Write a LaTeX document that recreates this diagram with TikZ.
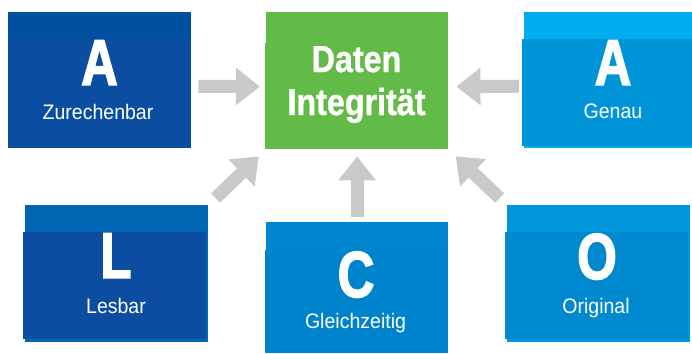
\documentclass[tikz,border=0pt]{standalone}
\usepackage{fontspec}
\setmainfont{Liberation Sans}
\newfontfamily\letterfont[FakeStretch=0.78, FakeBold=2.2]{Liberation Sans Bold}
\newfontfamily\titlefont[FakeStretch=0.86, FakeBold=1.0]{Liberation Sans Bold}
\newfontfamily\subfont[FakeStretch=0.93]{Liberation Sans}
\usetikzlibrary{arrows.meta}
\definecolor{zuTop}{HTML}{0050A0}
\definecolor{zuIn}{HTML}{0B4EA1}
\definecolor{datGreen}{HTML}{62BB46}
\definecolor{geTop}{HTML}{00ADEF}
\definecolor{geIn}{HTML}{0095D9}
\definecolor{lesTop}{HTML}{0066B3}
\definecolor{lesIn}{HTML}{0C4DA2}
\definecolor{glTop}{HTML}{0085CF}
\definecolor{glIn}{HTML}{0083CD}
\definecolor{oriTop}{HTML}{0096DB}
\definecolor{oriIn}{HTML}{0089CF}
\definecolor{arrowGray}{HTML}{C9C9C9}
\tikzset{
  box/.style={draw=none, inner sep=0pt, anchor=north west},
  letter/.style={text=white, inner sep=0pt, anchor=base, font=\letterfont\fontsize{65}{65}\selectfont},
  subtitle/.style={text=white, inner sep=0pt, anchor=base, font=\subfont\fontsize{21}{21}\selectfont},
  title/.style={text=white, inner sep=0pt, anchor=base, font=\titlefont\fontsize{37.5}{37.5}\selectfont},
  conn/.style={draw=arrowGray, line width=13pt, -{Triangle[length=24pt, width=36pt]}}
}
\begin{document}
\begin{tikzpicture}[x=1pt, y=-1pt]
\useasboundingbox (0,0) rectangle (692,353);
% boxes
\node[box, fill=zuTop, minimum width=183pt, minimum height=136pt] (zu) at (8,12) {};
\fill[zuIn] (8,39) rectangle (191,148);
\node[box, fill=datGreen, minimum width=182pt, minimum height=137pt] (dat) at (266,12) {};
\fill[datGreen] (265,43) rectangle (448,149);
\node[box, fill=geTop, minimum width=168pt, minimum height=136pt] (ge) at (524,12) {};
\fill[geIn] (522,39) rectangle (692,146);
\node[box, fill=lesTop, minimum width=183pt, minimum height=137pt] (les) at (25,205) {};
\fill[lesIn] (23,232) rectangle (206,339);
\node[box, fill=glTop, minimum width=182pt, minimum height=131pt] (gl) at (266,222) {};
\fill[glIn] (265,250) rectangle (448,353);
\node[box, fill=oriTop, minimum width=183pt, minimum height=137pt] (ori) at (507,205) {};
\fill[oriIn] (505,232) rectangle (688,339);
% texts
\node[letter] (zuL) at (99.5,85) {A};
\node[subtitle] (zuS) at (98,119) {Zurechenbar};
\node[title] (dat1) at (356.5,72) {Daten};
\node[title] (dat2) at (356.5,115) {Integrität};
\node[letter] (geL) at (613,85) {A};
\node[subtitle] (geS) at (613,118) {Genau};
\node[letter] (lesL) at (116,278) {L};
\node[subtitle] (lesS) at (116,313) {Lesbar};
\node[letter] (glL) at (356,297) {C};
\node[subtitle] (glS) at (355.5,328) {Gleichzeitig};
\node[letter] (oriL) at (597,279) {O};
\node[subtitle] (oriS) at (596,313) {Original};
% arrows
\draw[conn, shorten <=7pt, shorten >=6pt] ([yshift=-6pt]zu.east) -- ([yshift=-6pt]dat.west);
\draw[conn, shorten <=5pt, shorten >=8pt] ([yshift=-6pt]ge.west) -- ([yshift=-6pt]dat.east);
\draw[conn, shorten <=5pt, shorten >=7pt] (gl.north) -- (dat.south);
\draw[conn, shorten <=10pt, shorten >=10pt] (les.north east) -- (dat.south west);
\draw[conn, shorten <=10pt, shorten >=10pt] (ori.north west) -- (dat.south east);
\end{tikzpicture}
\end{document}
